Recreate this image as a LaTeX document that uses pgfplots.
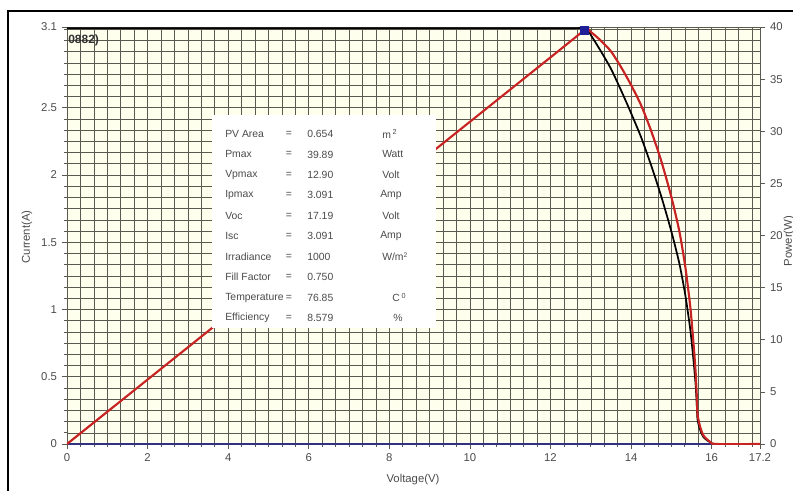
\documentclass[border=0pt]{standalone}
\usepackage{fontspec}
\setmainfont{Liberation Sans}
\usepackage{pgfplots}
\usepackage{pgfplotstable}
\pgfplotsset{compat=1.18}

\definecolor{gridc}{RGB}{90,90,80}
\definecolor{bgc}{RGB}{255,255,238}
\definecolor{pvred}{RGB}{200,35,35}
\definecolor{mppblue}{RGB}{30,30,150}
\definecolor{axblue}{RGB}{50,50,130}
\definecolor{txt}{RGB}{75,75,75}

% V (volt), I (amp), P (watt)
\pgfplotstableread{
V     I      P
0     3.091  0
12.0  3.091  37.09
12.85 3.091  39.72
13.0  3.040  39.52
13.25 2.920  38.69
13.5  2.790  37.67
13.75 2.630  36.16
14.0  2.460  34.44
14.25 2.280  32.49
14.5  2.070  30.02
14.75 1.840  27.14
15.0  1.580  23.70
15.2  1.340  20.37
15.35 1.100  16.89
15.47 0.850  13.15
15.55 0.620  9.64
15.60 0.450  7.02
15.63 0.300  4.69
15.65 0.180  2.82
15.72 0.100  1.57
15.80 0.050  0.79
15.95 0.015  0.24
16.10 0.000  0.00
17.20 0.000  0.00
}\ivdata

\pgfplotsset{
  pvbase/.style={
    at={(0,0)}, anchor=south west, scale only axis,
    width=519.75pt, height=312.75pt,
    xmin=0, xmax=17.2,
    tick align=outside,
    major tick length=4pt, minor tick length=2pt,
    tick style={gridc, line width=0.45pt},
    ticklabel style={font=\fontsize{8.5}{10}\selectfont, text=txt},
    /pgf/number format/assume math mode=true,
  }
}

\begin{document}
\begin{tikzpicture}
\useasboundingbox (-50.25pt,-34.5pt) rectangle (544.5pt,333pt);

\begin{axis}[pvbase,
  ymin=0, ymax=3.1,
  axis background/.style={fill=bgc},
  axis line style={gridc, line width=0.5pt},
  xtick={0,2,...,16}, extra x ticks={17.2},
  minor xtick={0,0.33333,...,17.2},
  ytick={0,0.5,...,2.5}, extra y ticks={3.1},
  minor ytick={0,0.083333,...,3.1},
  xtick pos=bottom, ytick pos=left,
  grid=both,
  major grid style={gridc, line width=0.4pt},
  minor grid style={gridc, line width=0.4pt},
]
\addplot[black, line width=1.3pt, smooth, tension=0.4] table[x=V, y=I] {\ivdata};
\draw[axblue, line width=0.9pt] (rel axis cs:0,0) -- (rel axis cs:1,0);
\end{axis}

\begin{axis}[pvbase,
  ymin=0, ymax=40,
  axis x line=none, axis y line*=right,
  axis line style={gridc, line width=0.5pt},
  ytick={0,5,...,40},
]
\addplot[pvred, line width=1.6pt, smooth, tension=0.4] table[x=V, y=P] {\ivdata};
\addplot[only marks, mark=square*, mark size=3pt, mppblue,
  mark options={fill=mppblue}] coordinates {(12.85,39.72)};
\end{axis}

\begin{scope}[x=0.75pt, y=-0.75pt, shift={(-50.25pt,333pt)}]
  % outer frame
  \draw[black, line width=1.5pt] (8,510) -- (8,11) -- (810,11);
  % info box
  \fill[white] (212,115) rectangle (436,328);
  \foreach \nm/\val/\un/\ux [count=\i from 0] in {
      PV Area/0.654/{m\,\textsuperscript{2}}/382,
      Pmax/39.89/Watt/382,
      Vpmax/12.90/Volt/382,
      Ipmax/3.091/Amp/380,
      Voc/17.19/Volt/382,
      Isc/3.091/Amp/380,
      Irradiance/1000/{W/m\textsuperscript{\tiny 2}}/382,
      Fill Factor/0.750/{}/382,
      Temperature/76.85/{C\,\textsuperscript{0}}/392,
      Efficiency/8.579/{\%}/393} {
    \node[anchor=west, inner sep=0pt, text=txt, font=\fontsize{7.8}{10}\selectfont]
      at (225,{134+20.44*\i}) {\nm};
    \node[inner sep=0pt, text=txt, font=\fontsize{7.8}{10}\selectfont]
      at (289,{134+20.44*\i}) {=};
    \node[anchor=west, inner sep=0pt, text=txt, font=\fontsize{7.8}{10}\selectfont]
      at (307,{134+20.44*\i}) {\val};
    \node[anchor=west, inner sep=0pt, text=txt, font=\fontsize{7.8}{10}\selectfont]
      at (\ux,{134+20.44*\i}) {\un};
  }
  % clipped title remnant
  \node[anchor=west, inner sep=0pt, text={rgb,255:red,50;green,50;blue,50},
    font=\fontsize{9}{10}\selectfont\bfseries] at (68,40) {0882)};
  % axis titles
  \node[text=txt, font=\fontsize{8.5}{10}\selectfont] at (413,480) {Voltage(V)};
  \node[text=txt, font=\fontsize{8.5}{10}\selectfont, rotate=90] at (27,237) {Current(A)};
  \node[text=txt, font=\fontsize{8.5}{10}\selectfont, rotate=90] at (789,241) {Power(W)};
\end{scope}
\end{tikzpicture}
\end{document}
